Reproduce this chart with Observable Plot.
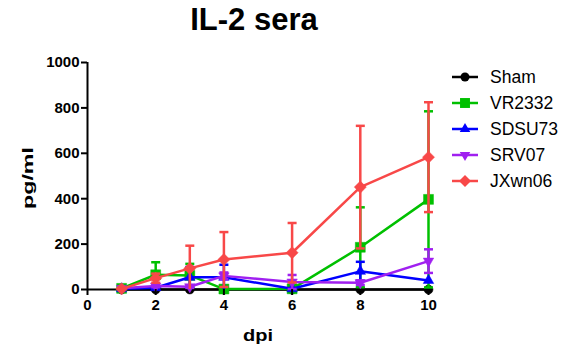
<!DOCTYPE html>
<html><head><meta charset="utf-8">
<script src="https://cdn.jsdelivr.net/npm/d3@7"></script>
<script src="https://cdn.jsdelivr.net/npm/@observablehq/plot@0.6"></script>
<style>
body{margin:0;background:#fff;font-family:"Liberation Sans",Arial,sans-serif;}
#wrap{position:relative;width:565px;}
#title{height:45px;width:508px;text-align:center;font-size:31px;font-weight:bold;line-height:31px;box-sizing:border-box;position:relative;top:4px;}
#legend{position:absolute;left:440px;top:60px;}
</style>
</head><body>
<div id="wrap"><div id="title">IL-2 sera</div><div id="chart"></div><div id="legend"></div></div>
<script>
const days = [1, 2, 3, 4, 6, 8, 10];
const seriesNames = ["Sham", "VR2332", "SDSU73", "SRV07", "JXwn06"];
const seriesColors = ["#000000", "#00c000", "#0000ff", "#a020f0", "#f84848"];
const sham = [0, 0, 0, 0, 0, 0, 0];
const shamSD = [0, 0, 0, 0, 0, 0, 0];
const vr2332 = [5, 65, 62, 2, 3, 186, 397];
const vr2332SD = [0, 55, 51, 0, 0, 176, 388];
const sdsu73 = [3, 8, 54, 54, 3, 80, 40];
const sdsu73SD = [0, 5, 45, 55, 0, 42, 0];
const srv07 = [5, 15, 12, 60, 33, 30, 125];
const srv07SD = [0, 5, 5, 15, 31, 10, 52];
const jxwn06 = [3, 50, 93, 132, 162, 451, 583];
const jxwn06SD = [0, 20, 100, 121, 131, 270, 242];
const xTicks = [0, 2, 4, 6, 8, 10];
const yTicks = [0, 200, 400, 600, 800, 1000];
const xLabel = "dpi";
const yLabel = "pg/ml";

const means = [sham, vr2332, sdsu73, srv07, jxwn06];
const sds = [shamSD, vr2332SD, sdsu73SD, srv07SD, jxwn06SD];
const symbols = ["circle", "square", "triangle", "triangle", "square"];
const rotations = [0, 0, 0, 180, 45];
const radii = [4.5, 5.6, 3.9, 3.9, 4.8];

const capSymbol = {draw(ctx) { ctx.moveTo(-4.5, 0); ctx.lineTo(4.5, 0); }};

const marks = [];
marks.push(Plot.ruleX([0], {y1: 0, y2: 1000, strokeWidth: 2}));
marks.push(Plot.ruleY([0], {x1: 0, x2: 10.1, strokeWidth: 2}));
seriesNames.forEach((name, i) => {
  const data = days.map((d, j) => ({day: d, v: means[i][j], lo: Math.max(0, means[i][j] - sds[i][j]), hi: means[i][j] + sds[i][j], sd: sds[i][j]}));
  const withErr = data.filter(d => d.sd > 0);
  const c = seriesColors[i];
  marks.push(Plot.line(data, {x: "day", y: "v", stroke: c, strokeWidth: 2.5}));
  marks.push(Plot.ruleX(withErr, {x: "day", y1: "lo", y2: "hi", stroke: c, strokeWidth: 2.5}));
  marks.push(Plot.dot(withErr, {x: "day", y: "hi", symbol: capSymbol, stroke: c, strokeWidth: 2.5}));
  marks.push(Plot.dot(withErr.filter(d => d.v - d.sd > 0), {x: "day", y: "lo", symbol: capSymbol, stroke: c, strokeWidth: 2.5}));
  marks.push(Plot.dot(data, {x: "day", y: "v", symbol: symbols[i], rotate: rotations[i], r: radii[i], fill: c, stroke: c, strokeWidth: 0.5}));
});
marks.push(Plot.axisX({ticks: xTicks, tickSize: 6, tickPadding: 4, strokeWidth: 2, fontSize: 15, fontWeight: "bold", tickFormat: d => String(d), label: null}));
marks.push(Plot.axisY({ticks: yTicks, tickSize: 6, tickPadding: 2, strokeWidth: 2, fontSize: 15, fontWeight: "bold", tickFormat: d => String(d), label: null}));
marks.push(Plot.text([xLabel], {frameAnchor: "bottom", textAnchor: "middle", lineAnchor: "middle", dy: 46, fontSize: 16, fontWeight: "bold"}));
marks.push(Plot.text([yLabel], {frameAnchor: "left", textAnchor: "middle", lineAnchor: "middle", dx: -59, dy: 2, rotate: -90, fontSize: 15.5, fontWeight: "bold"}));

const chart = Plot.plot({
  width: 565, height: 307,
  marginTop: 17, marginBottom: 63, marginLeft: 87, marginRight: 137,
  x: {domain: [0, 10]},
  y: {domain: [0, 1000]},
  style: {fontFamily: "'Liberation Sans', Arial, sans-serif", color: "#000", background: "#fff"},
  marks
});
const allText = d3.select(chart).selectAll("text");
allText.filter(function() { return this.textContent === xLabel; }).attr("textLength", 30).attr("lengthAdjust", "spacingAndGlyphs");
allText.filter(function() { return this.textContent === yLabel; }).attr("textLength", 62).attr("lengthAdjust", "spacingAndGlyphs");
document.getElementById("chart").appendChild(chart);

// legend
const lg = d3.select("#legend").append("svg").attr("width", 125).attr("height", 135)
  .style("font-family", "'Liberation Sans', Arial, sans-serif");
seriesNames.forEach((name, i) => {
  const g = lg.append("g").attr("transform", `translate(25,${17 + i * 26})`);
  g.append("line").attr("x1", -13).attr("x2", 13).attr("stroke", seriesColors[i]).attr("stroke-width", 2.5);
  const sym = {circle: d3.symbolCircle, square: d3.symbolSquare, triangle: d3.symbolTriangle}[symbols[i]];
  g.append("path").attr("d", d3.symbol(sym, Math.PI * radii[i] * radii[i])())
    .attr("transform", `rotate(${rotations[i]})`).attr("fill", seriesColors[i]);
  g.append("text").attr("x", 25).attr("dy", "0.35em").attr("font-size", 17.5).text(name);
});
</script>
</body></html>
